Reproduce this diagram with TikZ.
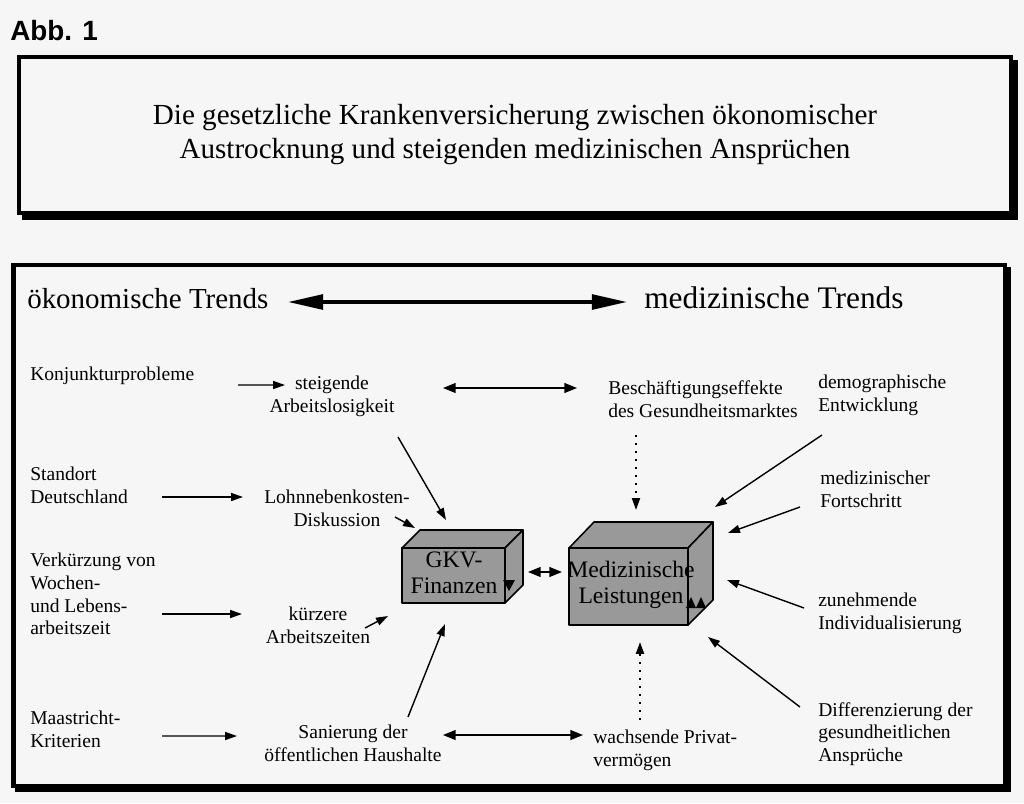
\documentclass[tikz,border=0pt]{standalone}
\usepackage{fontspec}
\setmainfont{Liberation Serif}
\newfontfamily\abbfont{Liberation Sans}
\usetikzlibrary{arrows.meta,calc}
\definecolor{paper}{gray}{0.965}
\definecolor{cubegray}{gray}{0.6}

\begin{document}
\begin{tikzpicture}[x=0.025cm, y=-0.025cm,
    lbl/.style={font=\fontsize{13.9}{16.2}\selectfont, align=left,
                inner sep=0pt, anchor=west},
    mid/.style={font=\fontsize{13.9}{16.2}\selectfont, align=center,
                inner sep=0pt},
    cubetext/.style={font=\fontsize{16.8}{18.2}\selectfont, align=center,
                     inner sep=0pt},
    trend/.style={inner sep=0pt, anchor=west},
    frame/.style={line width=2.85pt},
    face/.style={draw, fill=cubegray, line width=1.1pt, line join=round},
    arr/.style={-{Triangle[length=8.5pt,width=5.7pt]}, line width=1pt},
    darr/.style={{Triangle[length=9pt,width=7pt]}-{Triangle[length=9pt,width=7pt]},
                 line width=1.1pt},
    dotarr/.style={-{Triangle[length=8.5pt,width=5.7pt]}, line width=1.4pt,
                   dash pattern=on 1.4pt off 4.3pt},
    bigarr/.style={{Triangle[length=25pt,width=10.5pt]}-{Triangle[length=25pt,width=10.5pt]},
                   line width=2.5pt}
  ]
  \fill[paper] (0,0) rectangle (1024,803);
  \useasboundingbox (0,0) rectangle (1024,803);

  % frames with shadow
  \draw[frame, fill=black] (24,62) rectangle (1016,218);
  \draw[frame, fill=paper] (19,57) rectangle (1011,213);
  \draw[frame, fill=black] (17.5,269) rectangle (1009,790);
  \draw[frame, fill=paper] (13.5,265) rectangle (1005,786);

  % heading
  \node[anchor=west, inner sep=0pt,
        font=\abbfont\bfseries\fontsize{19.8}{22}\selectfont] (A) at (10,31) {Abb. 1};
  \node[align=center, inner sep=0pt, font=\fontsize{20.7}{24.5}\selectfont] (T) at (515,134.5)
    {Die gesetzliche Krankenversicherung zwischen ökonomischer\\
     Austrocknung und steigenden medizinischen Ansprüchen};

  % trends
  \node[trend, font=\fontsize{20.6}{24}\selectfont] (OT) at (27,299) {ökonomische Trends};
  \node[trend, font=\fontsize{22.3}{26}\selectfont] (MT) at (644,297.5) {medizinische Trends};
  \draw[bigarr] ($(OT.west)+(261,3)$) -- ($(MT.west)+(-17,4.5)$);

  % cubes
  \filldraw[face] (402,548) rectangle (505,603);
  \filldraw[face] (402,548) -- (420,530) -- (523,530) -- (505,548) -- cycle;
  \filldraw[face] (505,548) -- (523,530) -- (523,585) -- (505,603) -- cycle;
  \fill (503,580) -- (515,580) -- (509,591) -- cycle;

  \filldraw[face] (569,548) rectangle (688,625);
  \filldraw[face] (569,548) -- (594,522) -- (713,522) -- (688,548) -- cycle;
  \filldraw[face] (688,548) -- (713,522) -- (713,600) -- (688,625) -- cycle;
  \fill (686,608) -- (696,608) -- (691,597) -- cycle;
  \fill (696,608) -- (706,608) -- (701,597) -- cycle;

  \node[cubetext] (GKV) at (454,572.5) {GKV-\\Finanzen};
  \node[cubetext] (ML) at (631,585) {Medizinische\\Leistungen};

  % economic side
  \node[lbl] (KP) at (30,375.5) {Konjunkturprobleme};
  \node[lbl] (SD) at (30,485) {Standort\\Deutschland};
  \node[lbl] (VK) at (30,594) {Verkürzung von\\Wochen-\\und Lebens-\\arbeitszeit};
  \node[lbl] (MK) at (30,729.5) {Maastricht-\\Kriterien};

  \node[mid] (AL) at (332,396.5) {steigende\\Arbeitslosigkeit};
  \node[mid] (LK) at (337,508.5) {Lohnnebenkosten-\\Diskussion};
  \node[mid] (AZ) at (318,625) {kürzere\\Arbeitszeiten};
  \node[mid] (SH) at (353,743.5) {Sanierung der\\öffentlichen Haushalte};

  % medical side
  \node[lbl] (BG) at (608,399) {Beschäftigungseffekte\\des Gesundheitsmarktes};
  \node[lbl] (WP) at (593,750.5) {wachsende Privat-\\vermögen};
  \node[lbl] (DE) at (818,395.5) {demographische\\Entwicklung};
  \node[lbl] (MF) at (820,489.5) {medizinischer\\Fortschritt};
  \node[lbl] (ZI) at (818,613) {zunehmende\\Individualisierung};
  \node[lbl] (DA) at (818,734) {Differenzierung der\\gesundheitlichen\\Ansprüche};

  % arrows left
  \draw[arr] ($(KP.west)+(208,9.5)$) -- ($(AL)+(-47,-11.5)$);
  \draw[arr] ($(SD.west)+(132,12)$) -- ($(LK)+(-94,-11.5)$);
  \draw[arr] ($(VK.west)+(132,20)$) -- ($(AZ)+(-76,-11)$);
  \draw[arr] ($(MK.west)+(132,6.5)$) -- ($(SH)+(-116,-7.5)$);

  \draw[arr] ($(AL)+(66,40.5)$) -- ($(GKV)+(-8,-52.5)$);
  \draw[arr] ($(LK)+(58,8.5)$) -- ($(GKV)+(-39,-44.5)$);
  \draw[arr] ($(AZ)+(47,3)$) -- ($(GKV)+(-66,43.5)$);
  \draw[arr] ($(SH)+(55,-26.5)$) -- ($(GKV)+(-9,51.5)$);

  % links across
  \draw[darr] ($(GKV)+(74,-0.5)$) -- ($(ML)+(-69,-13)$);
  \draw[darr] ($(AL)+(111,-8.5)$) -- ($(BG.west)+(-31,-11)$);
  \draw[darr] ($(SH)+(90,-8.5)$) -- ($(WP.west)+(-10,-15.5)$);

  % arrows right
  \draw[dotarr] ($(BG.west)+(28,36)$) -- ($(ML)+(5,-75)$);
  \draw[dotarr] ($(WP.west)+(47,-30.5)$) -- ($(ML)+(9,57)$);
  \draw[arr] ($(DE.west)+(4,39.5)$) -- ($(ML)+(84,-78)$);
  \draw[arr] ($(MF.west)+(-20,17.5)$) -- ($(ML)+(97,-52)$);
  \draw[arr] ($(ZI.west)+(-14,-5)$) -- ($(ML)+(96,-5)$);
  \draw[arr] ($(DA.west)+(-18,-27)$) -- ($(ML)+(77,52)$);
\end{tikzpicture}
\end{document}
